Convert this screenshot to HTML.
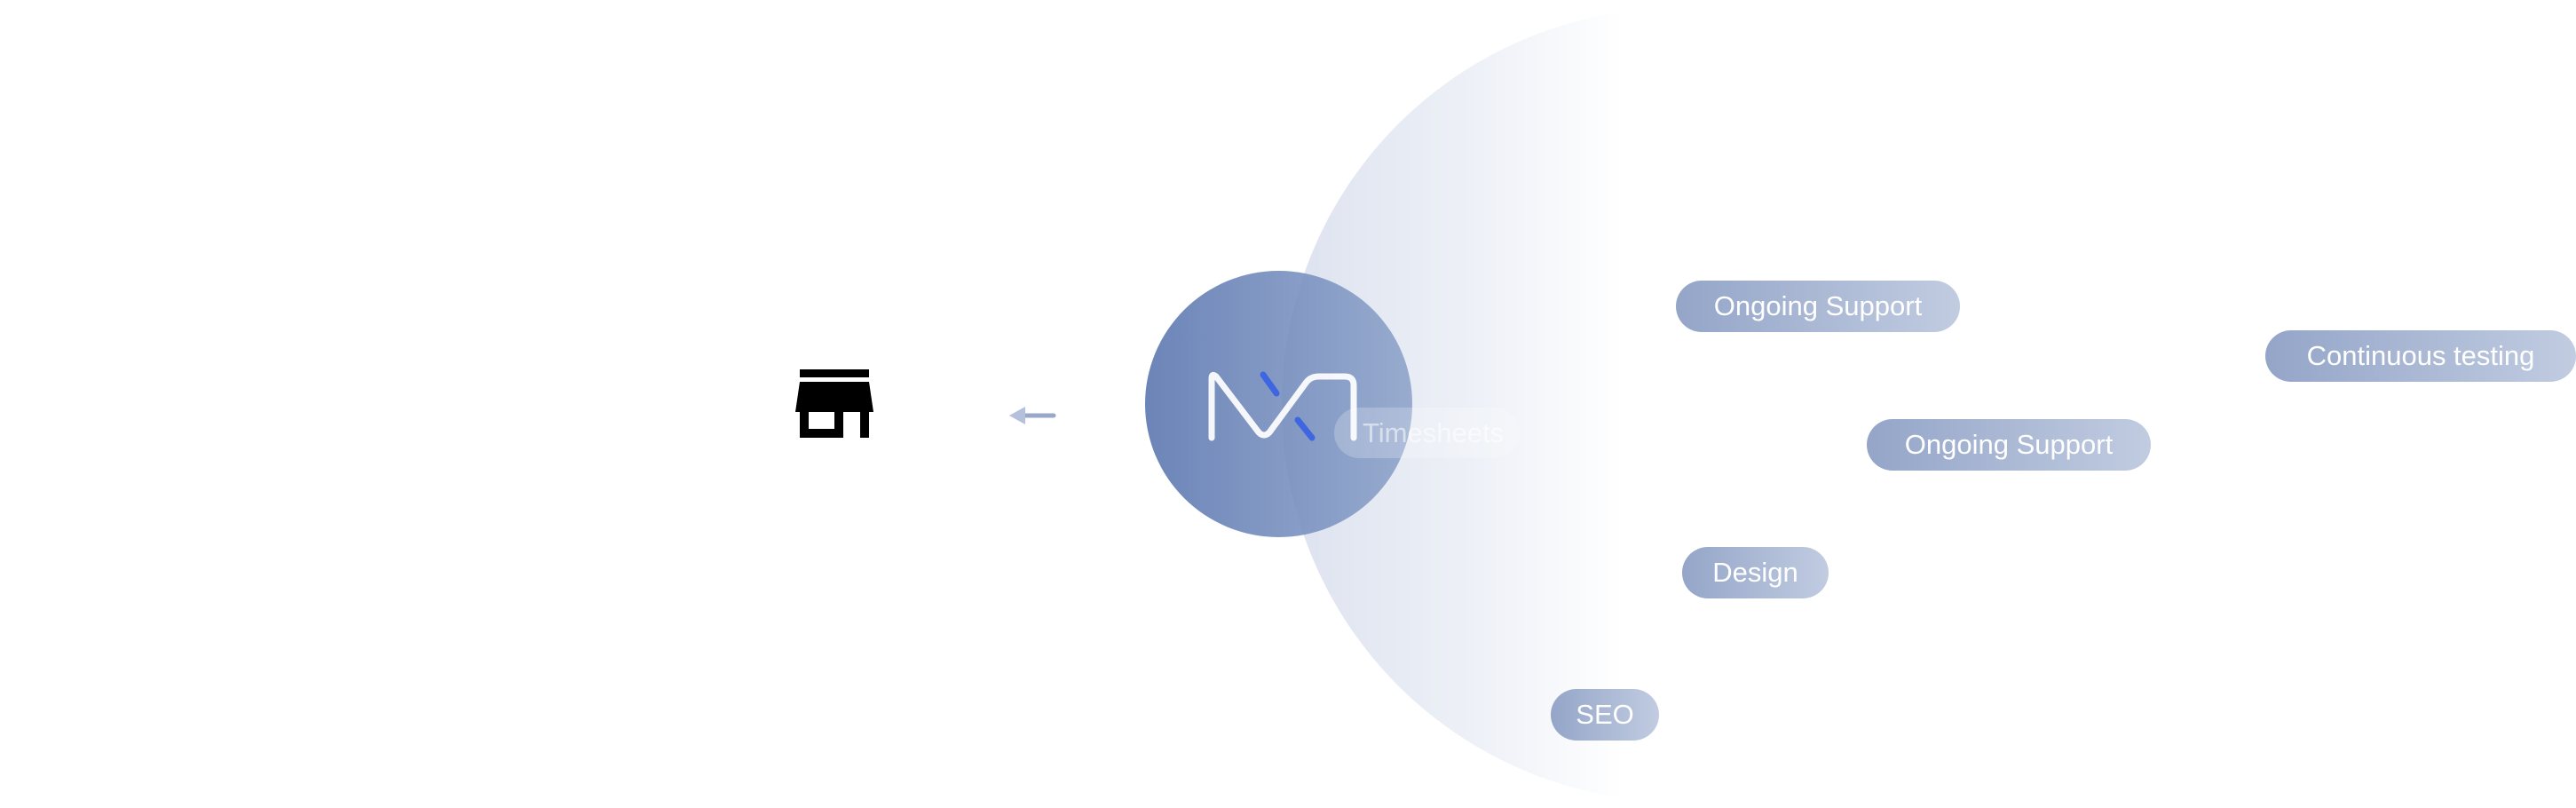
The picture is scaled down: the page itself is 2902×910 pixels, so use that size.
<!DOCTYPE html>
<html><head><meta charset="utf-8"><style>
html,body{margin:0;padding:0;background:#fff;}
#root{position:relative;width:2902px;height:910px;overflow:hidden;background:#fff;font-family:"Liberation Sans",sans-serif;}
.abs{position:absolute;}
.pill{position:absolute;box-sizing:border-box;height:58px;border-radius:29px;background:linear-gradient(90deg,#94a5c8,#c1cce1);color:#fff;font-size:31px;line-height:58px;text-align:center;white-space:nowrap;}
</style></head><body>
<div id="root">
  <div class="abs" style="left:1444px;top:9px;width:894px;height:894px;border-radius:50%;background:linear-gradient(90deg,#dce2ef 0%,#eef1f7 25%,#ffffff 43%);"></div>

  <svg class="abs" style="left:0;top:0" width="2902" height="910">
    <rect x="901" y="416" width="78" height="9" fill="#000"/>
    <path d="M901 430 H979 L984 464 H979 V493 H969 V464 H950 V493 H901 V464 H896 Z M911 464 V483 H940 V464 Z" fill="#000" fill-rule="evenodd"/>
  </svg>
  <svg class="abs" style="left:1130px;top:450px" width="70" height="40">
    <line x1="20" y1="18" x2="57" y2="18" stroke="#98a8ca" stroke-width="5" stroke-linecap="round"/>
    <path d="M7 18 L25 8 L25 28 Z" fill="#b4c0dc"/>
  </svg>

  <div class="abs" style="left:1290px;top:305px;width:301px;height:300px;border-radius:50%;background:linear-gradient(90deg,rgba(100,126,180,0.95),rgba(138,160,200,0.85));"></div>
  <div class="abs" style="left:1503px;top:459px;width:209px;height:57px;border-radius:29px;background:rgba(255,255,255,0.22);color:rgba(255,255,255,0.55);font-size:31px;line-height:57px;padding-left:32px;box-sizing:border-box;">Timesheets</div>
  <svg class="abs" style="left:0;top:0" width="2902" height="910">
    <path d="M1365 493 V426 Q1365 420 1370 424 L1418 487 Q1424 493 1430 487 L1472 430 Q1477 424 1486 424 H1515 Q1525 424 1525 434 V493" fill="none" stroke="#fff" stroke-width="7" stroke-linecap="round" stroke-linejoin="round" opacity="0.92"/>
    <line x1="1423" y1="422" x2="1438" y2="443" stroke="#3d66e0" stroke-width="7" stroke-linecap="round"/>
    <line x1="1462" y1="473" x2="1478" y2="493" stroke="#3d66e0" stroke-width="7" stroke-linecap="round"/>
  </svg>

  <div class="pill" style="left:1888px;top:316px;width:320px;">Ongoing Support</div>
  <div class="pill" style="left:2552px;top:372px;width:350px;">Continuous testing</div>
  <div class="pill" style="left:2103px;top:472px;width:320px;">Ongoing Support</div>
  <div class="pill" style="left:1895px;top:616px;width:165px;">Design</div>
  <div class="pill" style="left:1747px;top:776px;width:122px;">SEO</div>
</div>
</body></html>
